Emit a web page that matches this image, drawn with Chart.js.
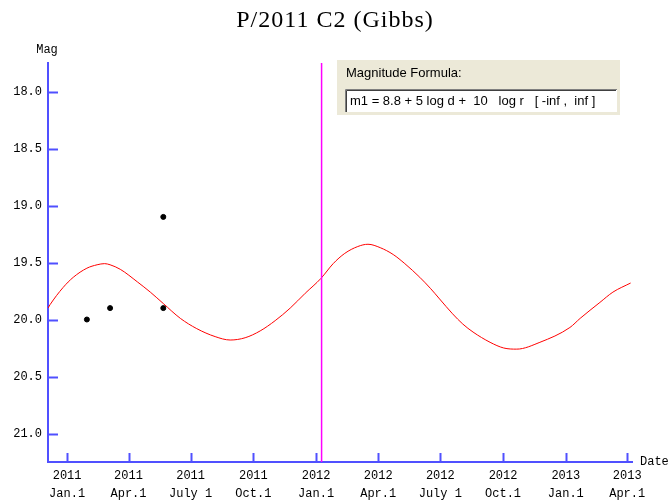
<!DOCTYPE html>
<html>
<head>
<meta charset="utf-8">
<script src="https://cdn.jsdelivr.net/npm/chart.js@4"></script>
<style>
  html, body { margin: 0; padding: 0; background: #fff; }
  #wrap { width: 668px; height: 500px; }
</style>
</head>
<body>
<div id="wrap"><canvas id="magChart" width="668" height="500"></canvas></div>
<script>
// days counted from 2011 Jan.1
const curveDays = [-28, -25, -6, 9, 29, 44, 55, 63, 78, 103, 122, 141, 166, 190, 217, 239, 261, 283, 305, 327, 349, 372, 390, 407, 426, 441, 459, 478, 495, 517, 533, 546, 565, 580, 595, 620, 640, 659, 693, 737, 752, 781, 800, 826];
const curveMag  = [19.90, 19.87, 19.72, 19.63, 19.55, 19.52, 19.51, 19.52, 19.56, 19.67, 19.76, 19.86, 19.99, 20.08, 20.15, 20.18, 20.16, 20.10, 20.01, 19.90, 19.77, 19.64, 19.51, 19.42, 19.36, 19.34, 19.37, 19.43, 19.51, 19.63, 19.73, 19.82, 19.95, 20.04, 20.11, 20.20, 20.25, 20.26, 20.20, 20.07, 19.99, 19.85, 19.76, 19.68];

const obsDays = [29, 63, 141, 141];
const obsMag  = [20.00, 19.90, 19.10, 19.90];

const tickDays  = [0, 90, 181, 273, 365, 456, 547, 639, 731, 821];
const tickYears = ['2011', '2011', '2011', '2011', '2012', '2012', '2012', '2012', '2013', '2013'];
const tickDates = ['Jan.1', 'Apr.1', 'July 1', 'Oct.1', 'Jan.1', 'Apr.1', 'July 1', 'Oct.1', 'Jan.1', 'Apr.1'];
const magTicks  = [18.0, 18.5, 19.0, 19.5, 20.0, 20.5, 21.0];

const todayDay = 373;

const axisColor = '#5050ff';
const monoFont = "'Liberation Mono', 'DejaVu Sans Mono', monospace";
const sansFont = "'Liberation Sans', Arial, sans-serif";

const extras = {
  id: 'extras',
  afterDraw(chart) {
    const { ctx, chartArea: a, scales: { x, y } } = chart;
    ctx.save();
    // inward tick marks
    ctx.strokeStyle = axisColor;
    ctx.lineWidth = 2;
    magTicks.forEach(v => {
      const py = Math.round(y.getPixelForValue(v)) + 0.5;
      ctx.beginPath(); ctx.moveTo(a.left, py); ctx.lineTo(a.left + 10, py); ctx.stroke();
    });
    tickDays.forEach(v => {
      const px = Math.round(x.getPixelForValue(v)) + 0.5;
      ctx.beginPath(); ctx.moveTo(px, a.bottom); ctx.lineTo(px, a.bottom - 9); ctx.stroke();
    });
    // current date marker
    const mx = x.getPixelForValue(todayDay);
    ctx.strokeStyle = '#ff00ff';
    ctx.lineWidth = 1.5;
    ctx.beginPath(); ctx.moveTo(mx, a.top); ctx.lineTo(mx, a.bottom); ctx.stroke();
    // title
    ctx.fillStyle = '#000';
    ctx.font = "24px 'Liberation Serif', 'Times New Roman', serif";
    ctx.letterSpacing = '1px';
    ctx.textAlign = 'center';
    ctx.textBaseline = 'middle';
    ctx.fillText('P/2011 C2 (Gibbs)', 335, 21);
    ctx.letterSpacing = '0px';
    // axis names
    ctx.font = '12px ' + monoFont;
    ctx.fillText('Mag', a.left - 1, a.top - 13);
    ctx.textAlign = 'left';
    ctx.fillText('Date', a.right + 8, a.bottom);
    // magnitude formula box
    ctx.fillStyle = '#ece9d8';
    ctx.fillRect(337, 60, 283, 55);
    ctx.fillStyle = '#fff';
    ctx.fillRect(345, 89, 272, 23);
    ctx.strokeStyle = '#808080';
    ctx.lineWidth = 1;
    ctx.beginPath(); ctx.moveTo(345.5, 112); ctx.lineTo(345.5, 89.5); ctx.lineTo(617, 89.5); ctx.stroke();
    ctx.strokeStyle = '#404040';
    ctx.beginPath(); ctx.moveTo(346.5, 112); ctx.lineTo(346.5, 90.5); ctx.lineTo(616, 90.5); ctx.stroke();
    ctx.fillStyle = '#000';
    ctx.font = '13px ' + sansFont;
    ctx.fillText('Magnitude Formula:', 346, 73);
    ctx.fillText('m1 = 8.8 + 5 log d +  10   log r   [ -inf ,  inf ]', 350, 101);
    ctx.restore();
  }
};

const ctx = document.getElementById('magChart').getContext('2d');
new Chart(ctx, {
  type: 'scatter',
  data: {
    datasets: [
      {
        type: 'line',
        data: curveDays.map((d, i) => ({ x: d, y: curveMag[i] })),
        borderColor: '#ff0000',
        borderWidth: 1,
        pointRadius: 0,
        cubicInterpolationMode: 'monotone',
        fill: false
      },
      {
        data: obsDays.map((d, i) => ({ x: d, y: obsMag[i] })),
        backgroundColor: '#000',
        borderColor: '#000',
        pointRadius: 2.5
      }
    ]
  },
  options: {
    responsive: false,
    animation: false,
    devicePixelRatio: 1,
    layout: { padding: { left: 0, right: 36, top: 63, bottom: 0 } },
    plugins: {
      legend: { display: false },
      tooltip: { enabled: false },
      title: { display: false }
    },
    scales: {
      x: {
        type: 'linear',
        min: -28,
        max: 828,
        afterBuildTicks: s => { s.ticks = tickDays.map(v => ({ value: v })); },
        afterFit: s => { s.height = 38; },
        grid: { display: false, drawTicks: false },
        border: { color: axisColor, width: 2 },
        ticks: {
          padding: 5,
          maxRotation: 0,
          autoSkip: false,
          color: '#000',
          font: { family: monoFont, size: 12, lineHeight: 1.5 },
          callback: v => {
            const i = tickDays.indexOf(v);
            return i < 0 ? '' : [tickYears[i], tickDates[i]];
          }
        }
      },
      y: {
        reverse: true,
        min: 17.75,
        max: 21.25,
        afterBuildTicks: s => { s.ticks = magTicks.map(v => ({ value: v })); },
        afterFit: s => { s.width = 48; },
        grid: { display: false, drawTicks: false },
        border: { color: axisColor, width: 2 },
        ticks: {
          padding: 6,
          color: '#000',
          font: { family: monoFont, size: 12 },
          callback: v => v.toFixed(1)
        }
      }
    }
  },
  plugins: [extras]
});
</script>
</body>
</html>
